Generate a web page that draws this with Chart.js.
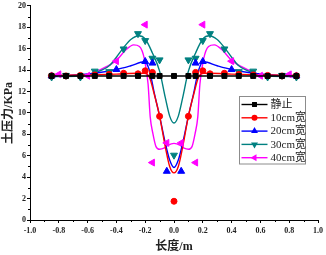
<!DOCTYPE html>
<html>
<head>
<meta charset="utf-8">
<script src="https://cdn.jsdelivr.net/npm/chart.js@4/dist/chart.umd.min.js"></script>
<style>html,body{margin:0;padding:0;background:#fff}</style>
</head>
<body>
<canvas id="c" width="326" height="255"></canvas>
<script>
// series names (legend order)
const seriesNames = ['静止', '10cm宽', '20cm宽', '30cm宽', '40cm宽'];
const seriesColors = ['#000000', '#ff0000', '#0000ff', '#008080', '#ff00ff'];

// measured points
const restX = [-0.85, -0.75, -0.65, -0.55, -0.45, -0.35, -0.25, -0.15, -0.1, 0, 0.1, 0.15, 0.25, 0.35, 0.45, 0.55, 0.65, 0.75, 0.85];
const restY = [13.45, 13.45, 13.45, 13.45, 13.45, 13.45, 13.45, 13.45, 13.45, 13.45, 13.45, 13.45, 13.45, 13.45, 13.45, 13.45, 13.45, 13.45, 13.45];

const w10X = [-0.85, -0.75, -0.65, -0.55, -0.45, -0.35, -0.25, -0.2, -0.15, -0.1, 0, 0.1, 0.15, 0.2, 0.25, 0.35, 0.45, 0.55, 0.65, 0.75, 0.85];
const w10Y = [13.47, 13.45, 13.5, 13.55, 13.6, 13.7, 13.65, 13.93, 13.78, 9.68, 1.75, 9.68, 13.78, 13.93, 13.65, 13.7, 13.6, 13.55, 13.5, 13.45, 13.47];

const w20X = [-0.85, -0.4, -0.2, -0.15, -0.05, 0.05, 0.15, 0.2, 0.4, 0.85];
const w20Y = [13.45, 14.05, 14.8, 14.65, 4.55, 4.55, 14.65, 14.8, 14.05, 13.45];

const w30X = [-0.85, -0.75, -0.65, -0.55, -0.45, -0.35, -0.25, -0.2, -0.15, -0.1, 0, 0.1, 0.15, 0.2, 0.25, 0.35, 0.45, 0.55, 0.65, 0.75, 0.85];
const w30Y = [13.35, 13.5, 13.35, 13.9, 13.85, 15.97, 17.4, 16.75, 15.1, 14.95, 6.05, 14.95, 15.1, 16.75, 17.4, 15.97, 13.85, 13.9, 13.35, 13.5, 13.35];

const w40X = [-0.8, -0.6, -0.4, -0.2, -0.15, -0.05, 0.05, 0.15, 0.2, 0.4, 0.6, 0.8];
const w40Y = [13.6, 13.47, 14.83, 18.24, 5.36, 7.2, 7.2, 5.36, 18.24, 14.83, 13.47, 13.6];

// fitted curves
const fit10X = [-0.85, -0.6, -0.4, -0.25, -0.2, -0.17, -0.14, -0.1, -0.06, -0.03, 0, 0.03, 0.06, 0.1, 0.14, 0.17, 0.2, 0.25, 0.4, 0.6, 0.85];
const fit10Y = [13.5, 13.55, 13.62, 13.7, 13.7, 13.3, 11.9, 9.7, 6.8, 5.0, 4.4, 5.0, 6.8, 9.7, 11.9, 13.3, 13.7, 13.7, 13.62, 13.55, 13.5];

const fit20X = [-0.85, -0.7, -0.55, -0.4, -0.3, -0.205, -0.17, -0.136, -0.1, -0.06, -0.03, 0, 0.03, 0.06, 0.1, 0.136, 0.17, 0.205, 0.3, 0.4, 0.55, 0.7, 0.85];
const fit20Y = [13.45, 13.52, 13.7, 14.05, 14.4, 14.78, 13.95, 11.8, 9.7, 7.15, 5.6, 4.9, 5.6, 7.15, 9.7, 11.8, 13.95, 14.78, 14.4, 14.05, 13.7, 13.52, 13.45];

const fit30X = [-0.85, -0.65, -0.55, -0.45, -0.4, -0.35, -0.3, -0.245, -0.2, -0.15, -0.1, -0.06, -0.03, 0, 0.03, 0.06, 0.1, 0.15, 0.2, 0.245, 0.3, 0.35, 0.4, 0.45, 0.55, 0.65, 0.85];
const fit30Y = [13.4, 13.45, 13.75, 14.4, 15.2, 16.1, 16.85, 17.2, 16.9, 15.6, 13.9, 11.4, 9.7, 9.05, 9.7, 11.4, 13.9, 15.6, 16.9, 17.2, 16.85, 16.1, 15.2, 14.4, 13.75, 13.45, 13.4];

const fit40X = [-0.85, -0.62, -0.55, -0.48, -0.4, -0.34, -0.28, -0.24, -0.205, -0.18, -0.165, -0.147, -0.125, -0.1, -0.07, -0.04, 0, 0.04, 0.07, 0.1, 0.125, 0.147, 0.165, 0.18, 0.205, 0.24, 0.28, 0.34, 0.4, 0.48, 0.55, 0.62, 0.85];
const fit40Y = [13.5, 13.5, 13.8, 14.25, 14.9, 15.8, 16.35, 16.2, 15.0, 12.7, 9.6, 8.1, 6.85, 6.6, 6.7, 7.0, 7.15, 7.0, 6.7, 6.6, 6.85, 8.1, 9.6, 12.7, 15.0, 16.2, 16.35, 15.8, 14.9, 14.25, 13.8, 13.5, 13.5];

// axis ticks
const xMinorTicks = [-0.9, -0.7, -0.5, -0.3, -0.1, 0.1, 0.3, 0.5, 0.7, 0.9];
const yMinorTicks = [1, 3, 5, 7, 9, 11, 13, 15, 17, 19];

const markerStyles = [
  { pointStyle: 'rect', rotation: 0, radius: 3.5 },
  { pointStyle: 'circle', rotation: 0, radius: 3 },
  { pointStyle: 'triangle', rotation: 0, radius: 4 },
  { pointStyle: 'triangle', rotation: 180, radius: 4 },
  { pointStyle: 'triangle', rotation: -90, radius: 4 }
];

function pts(xs, ys) {
  return xs.map((x, i) => ({ x, y: ys[i] }));
}

function markerSet(i, xs, ys) {
  const m = markerStyles[i];
  return {
    type: 'scatter', order: 0,
    data: pts(xs, ys),
    pointStyle: m.pointStyle, rotation: m.rotation, pointRadius: m.radius,
    backgroundColor: seriesColors[i], borderColor: seriesColors[i], pointBorderWidth: 1
  };
}

function curveSet(i, xs, ys) {
  return {
    type: 'line', order: 1,
    data: pts(xs, ys),
    borderColor: seriesColors[i], borderWidth: 1.4,
    pointRadius: 0, fill: false,
    cubicInterpolationMode: 'monotone'
  };
}

const datasets = [
  {
    type: 'line', order: 0,
    data: pts(restX, restY),
    borderColor: '#000', backgroundColor: '#000', borderWidth: 1.4,
    pointStyle: 'rect', pointRadius: 3.5, pointBorderWidth: 1, tension: 0
  },
  markerSet(1, w10X, w10Y),
  markerSet(2, w20X, w20Y),
  markerSet(3, w30X, w30Y),
  markerSet(4, w40X, w40Y),
  curveSet(1, fit10X, fit10Y),
  curveSet(2, fit20X, fit20Y),
  curveSet(3, fit30X, fit30Y),
  curveSet(4, fit40X, fit40Y)
];

const tickFont = { family: '"Liberation Serif", "DejaVu Serif", serif', size: 8, weight: 'bold' };
const cjkFont = '"Liberation Serif", "Noto Sans CJK SC", serif';

// minor ticks, legend box and axis titles
const extras = {
  id: 'extras',
  afterDraw(chart) {
    const { ctx, chartArea, scales: { x, y } } = chart;
    ctx.save();
    ctx.strokeStyle = '#000';
    ctx.lineWidth = 1;
    ctx.beginPath();
    xMinorTicks.forEach(v => {
      const px = Math.round(x.getPixelForValue(v)) + 0.5;
      ctx.moveTo(px, chartArea.bottom);
      ctx.lineTo(px, chartArea.bottom + 2);
    });
    yMinorTicks.forEach(v => {
      const py = Math.round(y.getPixelForValue(v)) + 0.5;
      ctx.moveTo(chartArea.left, py);
      ctx.lineTo(chartArea.left - 2, py);
    });
    ctx.stroke();

    // legend
    const bx = 239.5, by = 96.5, bw = 66, bh = 67.5;
    ctx.fillStyle = '#fff';
    ctx.fillRect(bx, by, bw, bh);
    ctx.strokeStyle = '#8c8c8c';
    ctx.strokeRect(bx, by, bw, bh);
    ctx.font = '11px ' + cjkFont;
    ctx.textBaseline = 'middle';
    seriesNames.forEach((name, i) => {
      const ly = by + 8 + i * 13.3;
      ctx.strokeStyle = seriesColors[i];
      ctx.fillStyle = seriesColors[i];
      ctx.lineWidth = 1.4;
      ctx.beginPath();
      ctx.moveTo(bx + 2, ly);
      ctx.lineTo(bx + 28, ly);
      ctx.stroke();
      const m = markerStyles[i];
      Chart.helpers.drawPoint(ctx, { pointStyle: m.pointStyle, rotation: m.rotation, radius: m.radius, borderWidth: 0 }, bx + 15, ly);
      ctx.fillStyle = '#222';
      ctx.textAlign = 'left';
      ctx.fillText(name, bx + 31, ly + 0.5);
    });

    // axis titles
    ctx.fillStyle = '#222';
    ctx.font = 'bold 12px ' + cjkFont;
    ctx.textAlign = 'center';
    ctx.textBaseline = 'middle';
    ctx.fillText('长度/m', (chartArea.left + chartArea.right) / 2, 247);
    ctx.translate(9, (chartArea.top + chartArea.bottom) / 2);
    ctx.rotate(-Math.PI / 2);
    ctx.fillText('土压力/KPa', 0, 0);
    ctx.restore();
  }
};

new Chart(document.getElementById('c').getContext('2d'), {
  type: 'scatter',
  data: { datasets },
  options: {
    responsive: false,
    animation: false,
    layout: { padding: { top: 5, right: 7, left: 0, bottom: 0 } },
    plugins: { legend: { display: false }, tooltip: { enabled: false } },
    scales: {
      x: {
        type: 'linear', min: -1, max: 1,
        afterFit: s => { s.height = 35; },
        ticks: {
          stepSize: 0.2, padding: 3, color: '#222', font: tickFont,
          maxRotation: 0, autoSkip: false,
          callback: v => (Math.round(v * 10) / 10).toFixed(1)
        },
        grid: { drawOnChartArea: false, drawTicks: true, tickLength: 3, color: '#000' },
        border: { color: '#000', width: 1 }
      },
      y: {
        type: 'linear', min: 0, max: 20,
        afterFit: s => { s.width = 30; },
        ticks: { stepSize: 2, padding: 1, color: '#222', font: tickFont },
        grid: { drawOnChartArea: false, drawTicks: true, tickLength: 3, color: '#000' },
        border: { color: '#000', width: 1 }
      }
    }
  },
  plugins: [extras]
});
</script>
</body>
</html>
